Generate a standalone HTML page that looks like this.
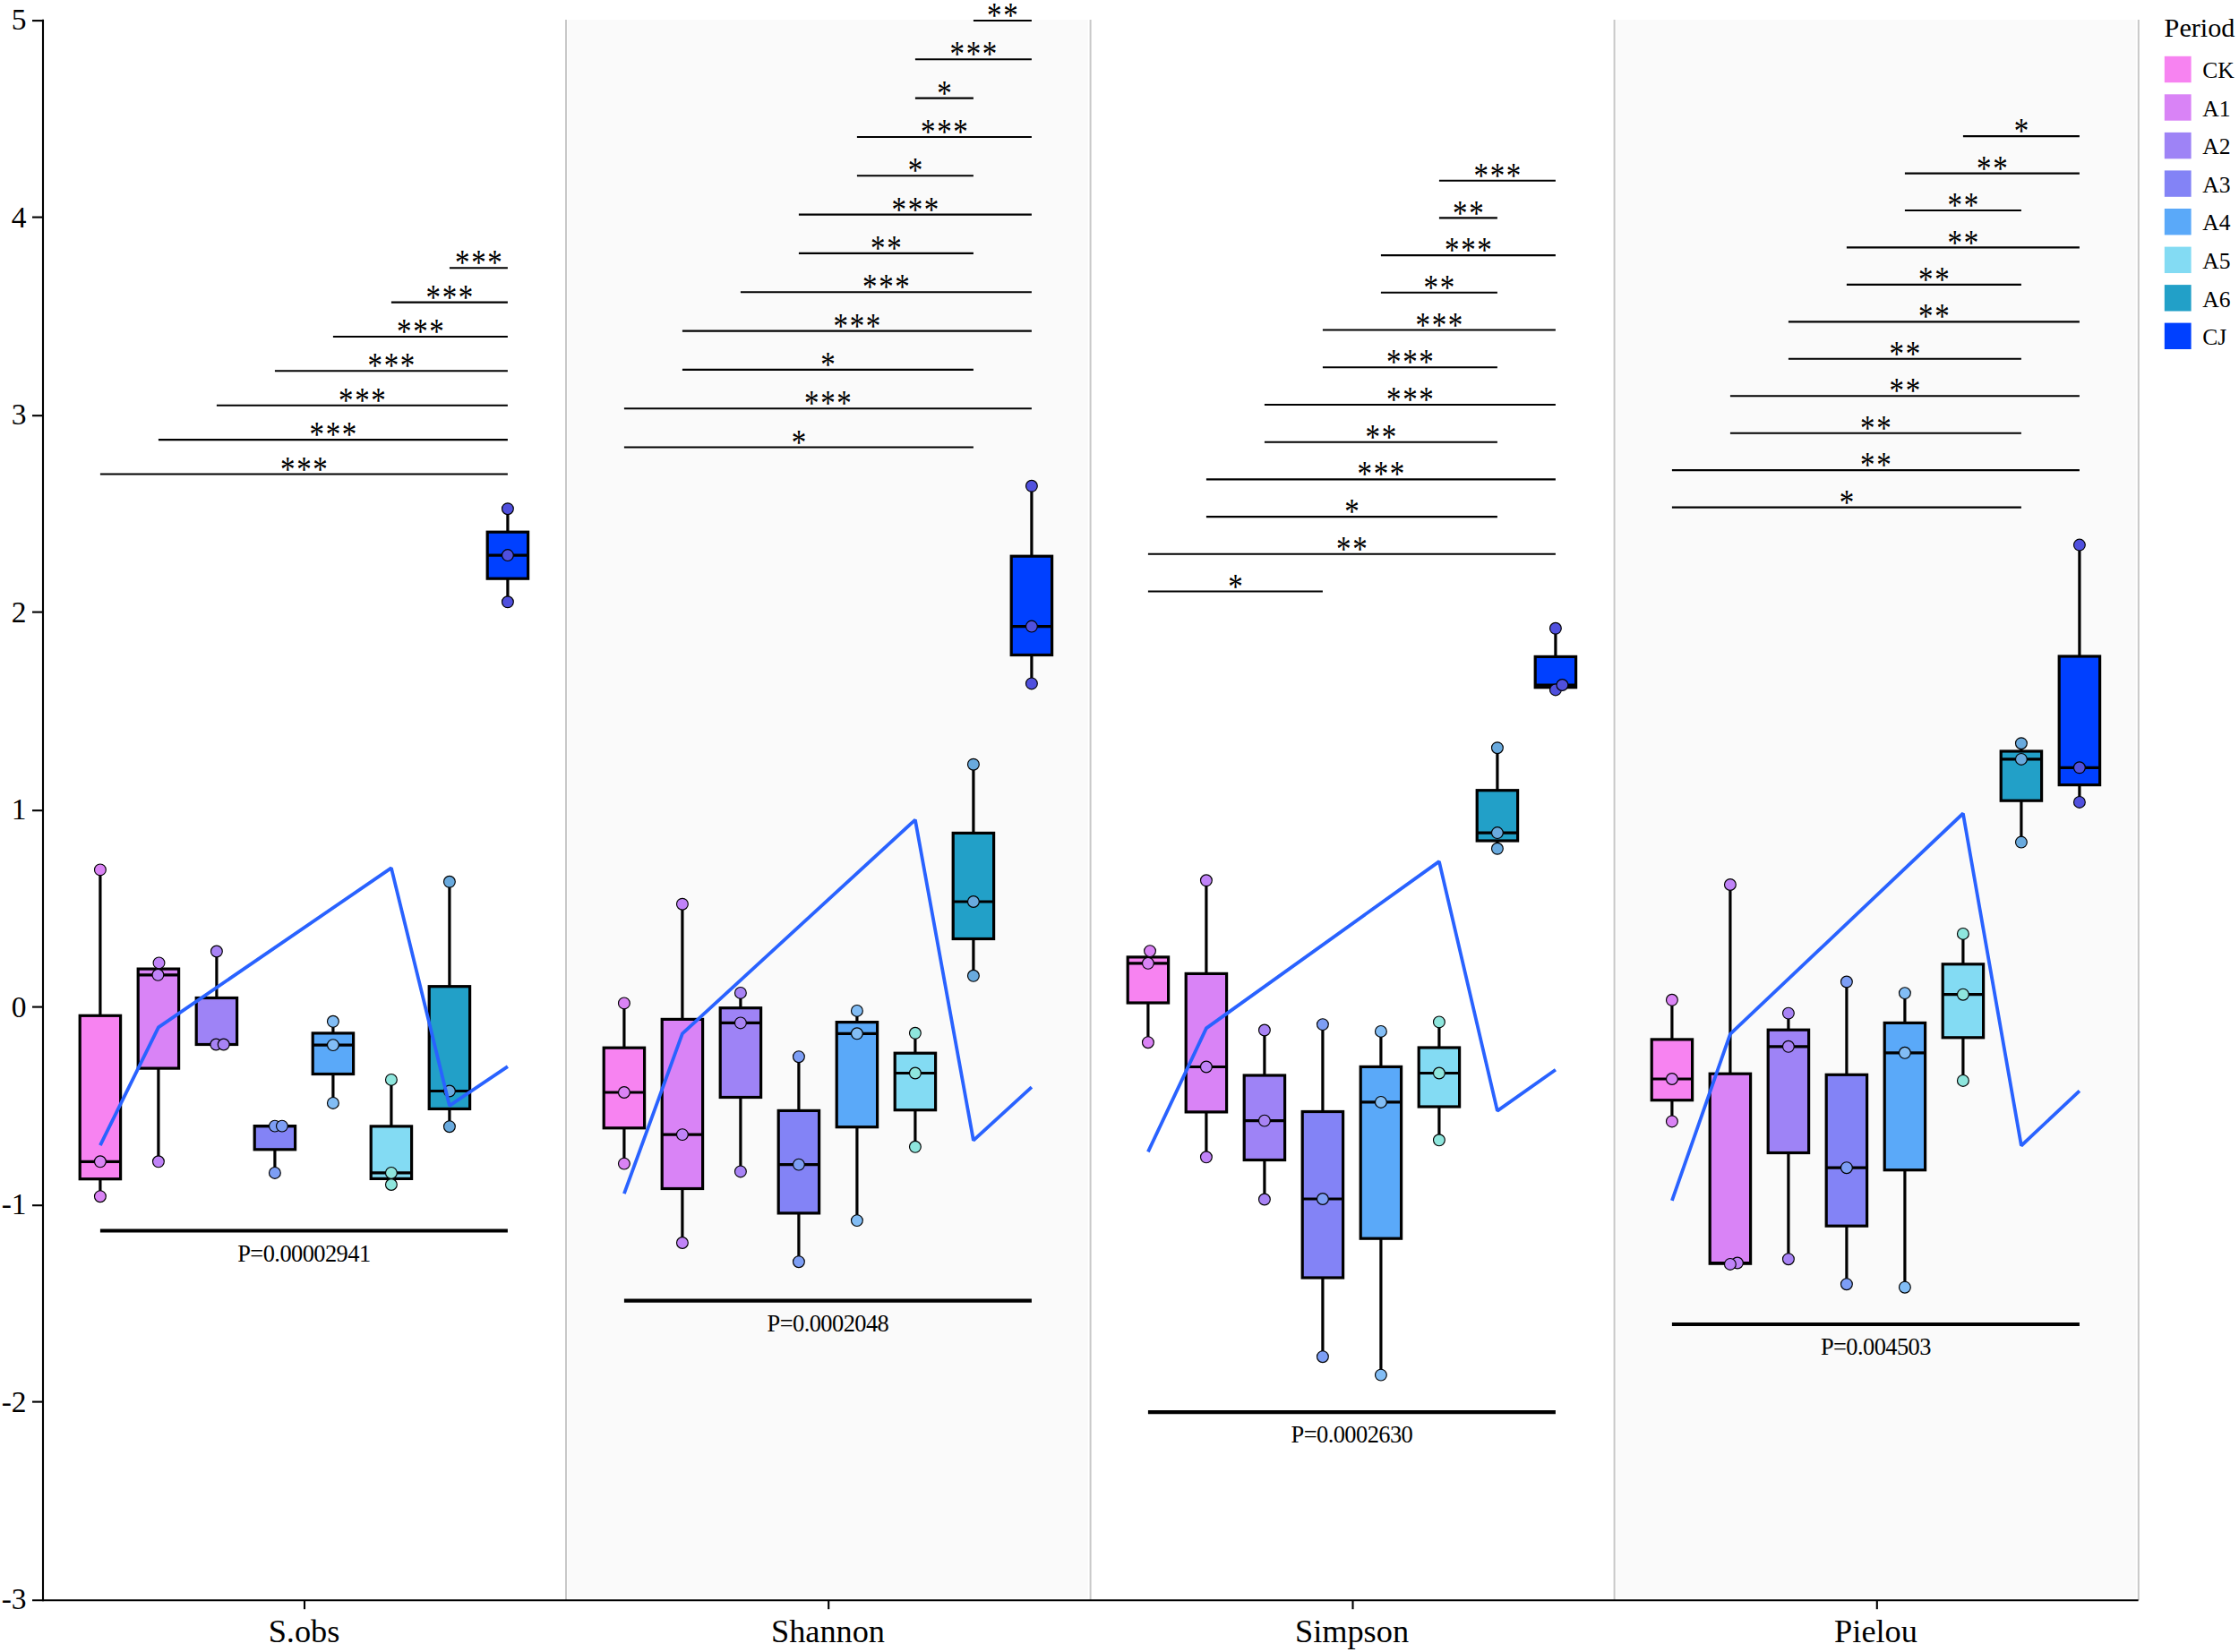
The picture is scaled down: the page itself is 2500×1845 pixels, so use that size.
<!DOCTYPE html>
<html lang="en"><head><meta charset="utf-8"><title>Alpha diversity boxplot</title>
<style>html,body{margin:0;padding:0;background:#fff}svg{display:block}text{font-family:"Liberation Serif","Times New Roman",Times,serif;fill:#000}</style></head><body>
<svg width="2500" height="1845" viewBox="0 0 2500 1845">
<rect width="2500" height="1845" fill="#fff"/>
<rect x="633.8" y="21.9" width="581.0" height="1762.8" fill="#fafafa"/>
<rect x="1804.4" y="21.9" width="580.6" height="1762.8" fill="#fafafa"/>
<line x1="632.0" y1="21.9" x2="632.0" y2="1787.2" stroke="#c8c8c8" stroke-width="2"/>
<line x1="1217.6" y1="21.9" x2="1217.6" y2="1787.2" stroke="#c8c8c8" stroke-width="2"/>
<line x1="1802.6" y1="21.9" x2="1802.6" y2="1787.2" stroke="#c8c8c8" stroke-width="2"/>
<line x1="2387.8" y1="21.9" x2="2387.8" y2="1787.2" stroke="#c8c8c8" stroke-width="2"/>
<g stroke="#000" stroke-width="2.1">
<line x1="501.9" y1="299.2" x2="566.9" y2="299.2"/>
<line x1="436.9" y1="337.6" x2="566.9" y2="337.6"/>
<line x1="371.9" y1="376.0" x2="566.9" y2="376.0"/>
<line x1="306.9" y1="414.3" x2="566.9" y2="414.3"/>
<line x1="241.9" y1="452.7" x2="566.9" y2="452.7"/>
<line x1="176.9" y1="491.1" x2="566.9" y2="491.1"/>
<line x1="111.9" y1="529.5" x2="566.9" y2="529.5"/>
<line x1="1086.9" y1="23.0" x2="1151.9" y2="23.0"/>
<line x1="1021.9" y1="66.3" x2="1151.9" y2="66.3"/>
<line x1="1021.9" y1="109.6" x2="1086.9" y2="109.6"/>
<line x1="956.9" y1="153.0" x2="1151.9" y2="153.0"/>
<line x1="956.9" y1="196.3" x2="1086.9" y2="196.3"/>
<line x1="891.9" y1="239.6" x2="1151.9" y2="239.6"/>
<line x1="891.9" y1="282.9" x2="1086.9" y2="282.9"/>
<line x1="826.9" y1="326.2" x2="1151.9" y2="326.2"/>
<line x1="761.9" y1="369.6" x2="1151.9" y2="369.6"/>
<line x1="761.9" y1="412.9" x2="1086.9" y2="412.9"/>
<line x1="696.9" y1="456.2" x2="1151.9" y2="456.2"/>
<line x1="696.9" y1="499.5" x2="1086.9" y2="499.5"/>
<line x1="1606.9" y1="201.7" x2="1736.9" y2="201.7"/>
<line x1="1606.9" y1="243.4" x2="1671.9" y2="243.4"/>
<line x1="1541.9" y1="285.1" x2="1736.9" y2="285.1"/>
<line x1="1541.9" y1="326.8" x2="1671.9" y2="326.8"/>
<line x1="1476.9" y1="368.5" x2="1736.9" y2="368.5"/>
<line x1="1476.9" y1="410.2" x2="1671.9" y2="410.2"/>
<line x1="1411.9" y1="452.0" x2="1736.9" y2="452.0"/>
<line x1="1411.9" y1="493.7" x2="1671.9" y2="493.7"/>
<line x1="1346.9" y1="535.4" x2="1736.9" y2="535.4"/>
<line x1="1346.9" y1="577.1" x2="1671.9" y2="577.1"/>
<line x1="1281.9" y1="618.8" x2="1736.9" y2="618.8"/>
<line x1="1281.9" y1="660.5" x2="1476.9" y2="660.5"/>
<line x1="2191.9" y1="152.1" x2="2321.9" y2="152.1"/>
<line x1="2126.9" y1="193.6" x2="2321.9" y2="193.6"/>
<line x1="2126.9" y1="235.0" x2="2256.9" y2="235.0"/>
<line x1="2061.9" y1="276.4" x2="2321.9" y2="276.4"/>
<line x1="2061.9" y1="317.9" x2="2256.9" y2="317.9"/>
<line x1="1996.9" y1="359.4" x2="2321.9" y2="359.4"/>
<line x1="1996.9" y1="400.8" x2="2256.9" y2="400.8"/>
<line x1="1931.9" y1="442.2" x2="2321.9" y2="442.2"/>
<line x1="1931.9" y1="483.7" x2="2256.9" y2="483.7"/>
<line x1="1866.9" y1="525.1" x2="2321.9" y2="525.1"/>
<line x1="1866.9" y1="566.6" x2="2256.9" y2="566.6"/>
</g>
<g font-size="33" text-anchor="middle" letter-spacing="1.63">
<text transform="translate(535.22,306.30) scale(1,1.2)">***</text>
<text transform="translate(502.71,344.68) scale(1,1.2)">***</text>
<text transform="translate(470.21,383.06) scale(1,1.2)">***</text>
<text transform="translate(437.71,421.44) scale(1,1.2)">***</text>
<text transform="translate(405.21,459.82) scale(1,1.2)">***</text>
<text transform="translate(372.71,498.20) scale(1,1.2)">***</text>
<text transform="translate(340.21,536.58) scale(1,1.2)">***</text>
<text transform="translate(1120.22,30.10) scale(1,1.2)">**</text>
<text transform="translate(1087.72,73.42) scale(1,1.2)">***</text>
<text transform="translate(1055.22,116.74) scale(1,1.2)">*</text>
<text transform="translate(1055.22,160.06) scale(1,1.2)">***</text>
<text transform="translate(1022.72,203.38) scale(1,1.2)">*</text>
<text transform="translate(1022.72,246.70) scale(1,1.2)">***</text>
<text transform="translate(990.22,290.02) scale(1,1.2)">**</text>
<text transform="translate(990.22,333.34) scale(1,1.2)">***</text>
<text transform="translate(957.72,376.66) scale(1,1.2)">***</text>
<text transform="translate(925.22,419.98) scale(1,1.2)">*</text>
<text transform="translate(925.22,463.30) scale(1,1.2)">***</text>
<text transform="translate(892.72,506.62) scale(1,1.2)">*</text>
<text transform="translate(1672.72,208.80) scale(1,1.2)">***</text>
<text transform="translate(1640.22,250.51) scale(1,1.2)">**</text>
<text transform="translate(1640.22,292.22) scale(1,1.2)">***</text>
<text transform="translate(1607.72,333.93) scale(1,1.2)">**</text>
<text transform="translate(1607.72,375.64) scale(1,1.2)">***</text>
<text transform="translate(1575.22,417.35) scale(1,1.2)">***</text>
<text transform="translate(1575.22,459.06) scale(1,1.2)">***</text>
<text transform="translate(1542.72,500.77) scale(1,1.2)">**</text>
<text transform="translate(1542.72,542.48) scale(1,1.2)">***</text>
<text transform="translate(1510.22,584.19) scale(1,1.2)">*</text>
<text transform="translate(1510.22,625.90) scale(1,1.2)">**</text>
<text transform="translate(1380.22,667.61) scale(1,1.2)">*</text>
<text transform="translate(2257.72,159.20) scale(1,1.2)">*</text>
<text transform="translate(2225.22,200.65) scale(1,1.2)">**</text>
<text transform="translate(2192.72,242.10) scale(1,1.2)">**</text>
<text transform="translate(2192.72,283.55) scale(1,1.2)">**</text>
<text transform="translate(2160.22,325.00) scale(1,1.2)">**</text>
<text transform="translate(2160.22,366.45) scale(1,1.2)">**</text>
<text transform="translate(2127.72,407.90) scale(1,1.2)">**</text>
<text transform="translate(2127.72,449.35) scale(1,1.2)">**</text>
<text transform="translate(2095.22,490.80) scale(1,1.2)">**</text>
<text transform="translate(2095.22,532.25) scale(1,1.2)">**</text>
<text transform="translate(2062.72,573.70) scale(1,1.2)">*</text>
</g>
<g stroke="#000" stroke-width="3.2">
<line x1="111.9" y1="971.4" x2="111.9" y2="1134.3"/>
<line x1="111.9" y1="1316.8" x2="111.9" y2="1336.2"/>
<rect x="89.2" y="1134.3" width="45.4" height="182.4" fill="#f783f1"/>
<line x1="89.2" y1="1297.3" x2="134.6" y2="1297.3"/>
</g>
<g stroke="#000" stroke-width="3.2">
<line x1="176.9" y1="1075.4" x2="176.9" y2="1082.1"/>
<line x1="176.9" y1="1193.0" x2="176.9" y2="1297.3"/>
<rect x="154.2" y="1082.1" width="45.4" height="111.0" fill="#d983f6"/>
<line x1="154.2" y1="1088.8" x2="199.6" y2="1088.8"/>
</g>
<g stroke="#000" stroke-width="3.2">
<line x1="241.9" y1="1062.5" x2="241.9" y2="1114.5"/>
<line x1="241.9" y1="1166.5" x2="241.9" y2="1166.5"/>
<rect x="219.2" y="1114.5" width="45.4" height="52.0" fill="#9e83f6"/>
<line x1="219.2" y1="1166.5" x2="264.6" y2="1166.5"/>
</g>
<g stroke="#000" stroke-width="3.2">
<line x1="306.9" y1="1257.6" x2="306.9" y2="1257.6"/>
<line x1="306.9" y1="1283.8" x2="306.9" y2="1309.9"/>
<rect x="284.2" y="1257.6" width="45.4" height="26.2" fill="#8383f6"/>
<line x1="284.2" y1="1257.6" x2="329.6" y2="1257.6"/>
</g>
<g stroke="#000" stroke-width="3.2">
<line x1="371.9" y1="1140.8" x2="371.9" y2="1153.9"/>
<line x1="371.9" y1="1199.5" x2="371.9" y2="1231.9"/>
<rect x="349.2" y="1153.9" width="45.4" height="45.6" fill="#5aa9f9"/>
<line x1="349.2" y1="1167.1" x2="394.6" y2="1167.1"/>
</g>
<g stroke="#000" stroke-width="3.2">
<line x1="436.9" y1="1205.9" x2="436.9" y2="1257.9"/>
<line x1="436.9" y1="1316.5" x2="436.9" y2="1323.0"/>
<rect x="414.2" y="1257.9" width="45.4" height="58.5" fill="#83dbf3"/>
<line x1="414.2" y1="1309.9" x2="459.6" y2="1309.9"/>
</g>
<g stroke="#000" stroke-width="3.2">
<line x1="501.9" y1="984.8" x2="501.9" y2="1101.7"/>
<line x1="501.9" y1="1238.3" x2="501.9" y2="1258.2"/>
<rect x="479.2" y="1101.7" width="45.4" height="136.7" fill="#22a0c8"/>
<line x1="479.2" y1="1218.5" x2="524.6" y2="1218.5"/>
</g>
<g stroke="#000" stroke-width="3.2">
<line x1="566.9" y1="568.2" x2="566.9" y2="594.2"/>
<line x1="566.9" y1="646.2" x2="566.9" y2="672.3"/>
<rect x="544.2" y="594.2" width="45.4" height="52.0" fill="#0040ff"/>
<line x1="544.2" y1="620.1" x2="589.6" y2="620.1"/>
</g>
<g stroke="#000" stroke-width="3.2">
<line x1="696.9" y1="1120.4" x2="696.9" y2="1170.2"/>
<line x1="696.9" y1="1259.8" x2="696.9" y2="1299.6"/>
<rect x="674.2" y="1170.2" width="45.4" height="89.6" fill="#f783f1"/>
<line x1="674.2" y1="1220.0" x2="719.6" y2="1220.0"/>
</g>
<g stroke="#000" stroke-width="3.2">
<line x1="761.9" y1="1009.7" x2="761.9" y2="1138.4"/>
<line x1="761.9" y1="1327.5" x2="761.9" y2="1388.0"/>
<rect x="739.2" y="1138.4" width="45.4" height="189.1" fill="#d983f6"/>
<line x1="739.2" y1="1267.1" x2="784.6" y2="1267.1"/>
</g>
<g stroke="#000" stroke-width="3.2">
<line x1="826.9" y1="1108.9" x2="826.9" y2="1125.7"/>
<line x1="826.9" y1="1225.4" x2="826.9" y2="1308.4"/>
<rect x="804.2" y="1125.7" width="45.4" height="99.8" fill="#9e83f6"/>
<line x1="804.2" y1="1142.4" x2="849.6" y2="1142.4"/>
</g>
<g stroke="#000" stroke-width="3.2">
<line x1="891.9" y1="1180.2" x2="891.9" y2="1240.4"/>
<line x1="891.9" y1="1354.9" x2="891.9" y2="1409.2"/>
<rect x="869.2" y="1240.4" width="45.4" height="114.5" fill="#8383f6"/>
<line x1="869.2" y1="1300.6" x2="914.6" y2="1300.6"/>
</g>
<g stroke="#000" stroke-width="3.2">
<line x1="956.9" y1="1128.9" x2="956.9" y2="1141.6"/>
<line x1="956.9" y1="1258.7" x2="956.9" y2="1363.1"/>
<rect x="934.2" y="1141.6" width="45.4" height="117.1" fill="#5aa9f9"/>
<line x1="934.2" y1="1154.3" x2="979.6" y2="1154.3"/>
</g>
<g stroke="#000" stroke-width="3.2">
<line x1="1021.9" y1="1153.8" x2="1021.9" y2="1176.2"/>
<line x1="1021.9" y1="1239.7" x2="1021.9" y2="1280.8"/>
<rect x="999.2" y="1176.2" width="45.4" height="63.5" fill="#83dbf3"/>
<line x1="999.2" y1="1198.5" x2="1044.6" y2="1198.5"/>
</g>
<g stroke="#000" stroke-width="3.2">
<line x1="1086.9" y1="853.7" x2="1086.9" y2="930.4"/>
<line x1="1086.9" y1="1048.4" x2="1086.9" y2="1089.8"/>
<rect x="1064.2" y="930.4" width="45.4" height="118.1" fill="#22a0c8"/>
<line x1="1064.2" y1="1007.0" x2="1109.6" y2="1007.0"/>
</g>
<g stroke="#000" stroke-width="3.2">
<line x1="1151.9" y1="542.8" x2="1151.9" y2="621.2"/>
<line x1="1151.9" y1="731.5" x2="1151.9" y2="763.4"/>
<rect x="1129.2" y="621.2" width="45.4" height="110.3" fill="#0040ff"/>
<line x1="1129.2" y1="699.6" x2="1174.6" y2="699.6"/>
</g>
<g stroke="#000" stroke-width="3.2">
<line x1="1281.9" y1="1062.1" x2="1281.9" y2="1068.9"/>
<line x1="1281.9" y1="1120.0" x2="1281.9" y2="1164.2"/>
<rect x="1259.2" y="1068.9" width="45.4" height="51.1" fill="#f783f1"/>
<line x1="1259.2" y1="1075.8" x2="1304.6" y2="1075.8"/>
</g>
<g stroke="#000" stroke-width="3.2">
<line x1="1346.9" y1="983.3" x2="1346.9" y2="1087.4"/>
<line x1="1346.9" y1="1241.9" x2="1346.9" y2="1292.3"/>
<rect x="1324.2" y="1087.4" width="45.4" height="154.5" fill="#d983f6"/>
<line x1="1324.2" y1="1191.5" x2="1369.6" y2="1191.5"/>
</g>
<g stroke="#000" stroke-width="3.2">
<line x1="1411.9" y1="1150.5" x2="1411.9" y2="1201.0"/>
<line x1="1411.9" y1="1295.5" x2="1411.9" y2="1339.5"/>
<rect x="1389.2" y="1201.0" width="45.4" height="94.5" fill="#9e83f6"/>
<line x1="1389.2" y1="1251.6" x2="1434.6" y2="1251.6"/>
</g>
<g stroke="#000" stroke-width="3.2">
<line x1="1476.9" y1="1144.1" x2="1476.9" y2="1241.5"/>
<line x1="1476.9" y1="1427.1" x2="1476.9" y2="1515.2"/>
<rect x="1454.2" y="1241.5" width="45.4" height="185.5" fill="#8383f6"/>
<line x1="1454.2" y1="1339.0" x2="1499.6" y2="1339.0"/>
</g>
<g stroke="#000" stroke-width="3.2">
<line x1="1541.9" y1="1151.9" x2="1541.9" y2="1191.4"/>
<line x1="1541.9" y1="1383.2" x2="1541.9" y2="1535.6"/>
<rect x="1519.2" y="1191.4" width="45.4" height="191.8" fill="#5aa9f9"/>
<line x1="1519.2" y1="1230.9" x2="1564.6" y2="1230.9"/>
</g>
<g stroke="#000" stroke-width="3.2">
<line x1="1606.9" y1="1141.4" x2="1606.9" y2="1170.0"/>
<line x1="1606.9" y1="1235.9" x2="1606.9" y2="1273.3"/>
<rect x="1584.2" y="1170.0" width="45.4" height="66.0" fill="#83dbf3"/>
<line x1="1584.2" y1="1198.5" x2="1629.6" y2="1198.5"/>
</g>
<g stroke="#000" stroke-width="3.2">
<line x1="1671.9" y1="835.2" x2="1671.9" y2="882.7"/>
<line x1="1671.9" y1="939.0" x2="1671.9" y2="947.8"/>
<rect x="1649.2" y="882.7" width="45.4" height="56.3" fill="#22a0c8"/>
<line x1="1649.2" y1="930.1" x2="1694.6" y2="930.1"/>
</g>
<g stroke="#000" stroke-width="3.2">
<line x1="1736.9" y1="701.8" x2="1736.9" y2="733.4"/>
<line x1="1736.9" y1="767.7" x2="1736.9" y2="770.4"/>
<rect x="1714.2" y="733.4" width="45.4" height="34.3" fill="#0040ff"/>
<line x1="1714.2" y1="765.0" x2="1759.6" y2="765.0"/>
</g>
<g stroke="#000" stroke-width="3.2">
<line x1="1866.9" y1="1116.8" x2="1866.9" y2="1160.9"/>
<line x1="1866.9" y1="1228.7" x2="1866.9" y2="1252.4"/>
<rect x="1844.2" y="1160.9" width="45.4" height="67.8" fill="#f783f1"/>
<line x1="1844.2" y1="1205.0" x2="1889.6" y2="1205.0"/>
</g>
<g stroke="#000" stroke-width="3.2">
<line x1="1931.9" y1="988.0" x2="1931.9" y2="1199.2"/>
<line x1="1931.9" y1="1411.2" x2="1931.9" y2="1411.9"/>
<rect x="1909.2" y="1199.2" width="45.4" height="212.0" fill="#d983f6"/>
<line x1="1909.2" y1="1410.5" x2="1954.6" y2="1410.5"/>
</g>
<g stroke="#000" stroke-width="3.2">
<line x1="1996.9" y1="1131.6" x2="1996.9" y2="1150.2"/>
<line x1="1996.9" y1="1287.5" x2="1996.9" y2="1406.2"/>
<rect x="1974.2" y="1150.2" width="45.4" height="137.3" fill="#9e83f6"/>
<line x1="1974.2" y1="1168.8" x2="2019.6" y2="1168.8"/>
</g>
<g stroke="#000" stroke-width="3.2">
<line x1="2061.9" y1="1096.5" x2="2061.9" y2="1200.3"/>
<line x1="2061.9" y1="1369.2" x2="2061.9" y2="1434.2"/>
<rect x="2039.2" y="1200.3" width="45.4" height="168.9" fill="#8383f6"/>
<line x1="2039.2" y1="1304.2" x2="2084.6" y2="1304.2"/>
</g>
<g stroke="#000" stroke-width="3.2">
<line x1="2126.9" y1="1109.1" x2="2126.9" y2="1142.4"/>
<line x1="2126.9" y1="1306.8" x2="2126.9" y2="1437.7"/>
<rect x="2104.2" y="1142.4" width="45.4" height="164.3" fill="#5aa9f9"/>
<line x1="2104.2" y1="1175.8" x2="2149.6" y2="1175.8"/>
</g>
<g stroke="#000" stroke-width="3.2">
<line x1="2191.9" y1="1042.9" x2="2191.9" y2="1076.8"/>
<line x1="2191.9" y1="1158.8" x2="2191.9" y2="1206.9"/>
<rect x="2169.2" y="1076.8" width="45.4" height="82.0" fill="#83dbf3"/>
<line x1="2169.2" y1="1110.7" x2="2214.6" y2="1110.7"/>
</g>
<g stroke="#000" stroke-width="3.2">
<line x1="2256.9" y1="830.2" x2="2256.9" y2="839.0"/>
<line x1="2256.9" y1="894.2" x2="2256.9" y2="940.6"/>
<rect x="2234.2" y="839.0" width="45.4" height="55.2" fill="#22a0c8"/>
<line x1="2234.2" y1="847.9" x2="2279.6" y2="847.9"/>
</g>
<g stroke="#000" stroke-width="3.2">
<line x1="2321.9" y1="608.6" x2="2321.9" y2="733.0"/>
<line x1="2321.9" y1="876.6" x2="2321.9" y2="895.9"/>
<rect x="2299.2" y="733.0" width="45.4" height="143.6" fill="#0040ff"/>
<line x1="2299.2" y1="857.3" x2="2344.6" y2="857.3"/>
</g>
<g fill="#da83f5" stroke="#000" stroke-width="1.15">
<circle cx="111.9" cy="971.4" r="6.4"/>
<circle cx="111.9" cy="1297.3" r="6.4"/>
<circle cx="111.9" cy="1336.2" r="6.4"/>
</g>
<g fill="#c083f8" stroke="#000" stroke-width="1.15">
<circle cx="177.5" cy="1075.4" r="6.4"/>
<circle cx="176.4" cy="1088.8" r="6.4"/>
<circle cx="176.9" cy="1297.3" r="6.4"/>
</g>
<g fill="#a883f5" stroke="#000" stroke-width="1.15">
<circle cx="241.9" cy="1062.5" r="6.4"/>
<circle cx="241.3" cy="1166.5" r="6.4"/>
<circle cx="249.7" cy="1166.5" r="6.4"/>
</g>
<g fill="#7d9ef5" stroke="#000" stroke-width="1.15">
<circle cx="306.9" cy="1257.6" r="6.4"/>
<circle cx="314.9" cy="1257.6" r="6.4"/>
<circle cx="306.9" cy="1309.9" r="6.4"/>
</g>
<g fill="#82bdf5" stroke="#000" stroke-width="1.15">
<circle cx="371.9" cy="1140.8" r="6.4"/>
<circle cx="371.9" cy="1167.1" r="6.4"/>
<circle cx="371.9" cy="1231.9" r="6.4"/>
</g>
<g fill="#8ee6dd" stroke="#000" stroke-width="1.15">
<circle cx="436.9" cy="1205.9" r="6.4"/>
<circle cx="436.9" cy="1309.9" r="6.4"/>
<circle cx="436.9" cy="1323.0" r="6.4"/>
</g>
<g fill="#69aade" stroke="#000" stroke-width="1.15">
<circle cx="501.9" cy="984.8" r="6.4"/>
<circle cx="501.9" cy="1218.5" r="6.4"/>
<circle cx="501.9" cy="1258.2" r="6.4"/>
</g>
<g fill="#5050de" stroke="#000" stroke-width="1.15">
<circle cx="566.9" cy="568.2" r="6.4"/>
<circle cx="566.9" cy="620.1" r="6.4"/>
<circle cx="566.9" cy="672.3" r="6.4"/>
</g>
<g fill="#da83f5" stroke="#000" stroke-width="1.15">
<circle cx="696.9" cy="1120.4" r="6.4"/>
<circle cx="696.9" cy="1220.0" r="6.4"/>
<circle cx="696.9" cy="1299.6" r="6.4"/>
</g>
<g fill="#c083f8" stroke="#000" stroke-width="1.15">
<circle cx="761.9" cy="1009.7" r="6.4"/>
<circle cx="761.9" cy="1267.1" r="6.4"/>
<circle cx="761.9" cy="1388.0" r="6.4"/>
</g>
<g fill="#a883f5" stroke="#000" stroke-width="1.15">
<circle cx="826.9" cy="1108.9" r="6.4"/>
<circle cx="826.9" cy="1142.4" r="6.4"/>
<circle cx="826.9" cy="1308.4" r="6.4"/>
</g>
<g fill="#7d9ef5" stroke="#000" stroke-width="1.15">
<circle cx="891.9" cy="1180.2" r="6.4"/>
<circle cx="891.9" cy="1300.6" r="6.4"/>
<circle cx="891.9" cy="1409.2" r="6.4"/>
</g>
<g fill="#82bdf5" stroke="#000" stroke-width="1.15">
<circle cx="956.9" cy="1128.9" r="6.4"/>
<circle cx="956.9" cy="1154.3" r="6.4"/>
<circle cx="956.9" cy="1363.1" r="6.4"/>
</g>
<g fill="#8ee6dd" stroke="#000" stroke-width="1.15">
<circle cx="1021.9" cy="1153.8" r="6.4"/>
<circle cx="1021.9" cy="1198.5" r="6.4"/>
<circle cx="1021.9" cy="1280.8" r="6.4"/>
</g>
<g fill="#69aade" stroke="#000" stroke-width="1.15">
<circle cx="1086.9" cy="853.7" r="6.4"/>
<circle cx="1086.9" cy="1007.0" r="6.4"/>
<circle cx="1086.9" cy="1089.8" r="6.4"/>
</g>
<g fill="#5050de" stroke="#000" stroke-width="1.15">
<circle cx="1151.9" cy="542.8" r="6.4"/>
<circle cx="1151.9" cy="699.6" r="6.4"/>
<circle cx="1151.9" cy="763.4" r="6.4"/>
</g>
<g fill="#da83f5" stroke="#000" stroke-width="1.15">
<circle cx="1284.0" cy="1062.1" r="6.4"/>
<circle cx="1281.9" cy="1075.8" r="6.4"/>
<circle cx="1281.9" cy="1164.2" r="6.4"/>
</g>
<g fill="#c083f8" stroke="#000" stroke-width="1.15">
<circle cx="1346.9" cy="983.3" r="6.4"/>
<circle cx="1346.9" cy="1191.5" r="6.4"/>
<circle cx="1346.9" cy="1292.3" r="6.4"/>
</g>
<g fill="#a883f5" stroke="#000" stroke-width="1.15">
<circle cx="1411.9" cy="1150.5" r="6.4"/>
<circle cx="1411.9" cy="1251.6" r="6.4"/>
<circle cx="1411.9" cy="1339.5" r="6.4"/>
</g>
<g fill="#7d9ef5" stroke="#000" stroke-width="1.15">
<circle cx="1476.9" cy="1144.1" r="6.4"/>
<circle cx="1476.9" cy="1339.0" r="6.4"/>
<circle cx="1476.9" cy="1515.2" r="6.4"/>
</g>
<g fill="#82bdf5" stroke="#000" stroke-width="1.15">
<circle cx="1541.9" cy="1151.9" r="6.4"/>
<circle cx="1541.9" cy="1230.9" r="6.4"/>
<circle cx="1541.9" cy="1535.6" r="6.4"/>
</g>
<g fill="#8ee6dd" stroke="#000" stroke-width="1.15">
<circle cx="1606.9" cy="1141.4" r="6.4"/>
<circle cx="1606.9" cy="1198.5" r="6.4"/>
<circle cx="1606.9" cy="1273.3" r="6.4"/>
</g>
<g fill="#69aade" stroke="#000" stroke-width="1.15">
<circle cx="1671.9" cy="835.2" r="6.4"/>
<circle cx="1671.9" cy="930.1" r="6.4"/>
<circle cx="1671.9" cy="947.8" r="6.4"/>
</g>
<g fill="#5050de" stroke="#000" stroke-width="1.15">
<circle cx="1736.9" cy="701.8" r="6.4"/>
<circle cx="1736.9" cy="770.4" r="6.4"/>
<circle cx="1744.4" cy="765.0" r="6.4"/>
</g>
<g fill="#da83f5" stroke="#000" stroke-width="1.15">
<circle cx="1866.9" cy="1116.8" r="6.4"/>
<circle cx="1866.9" cy="1205.0" r="6.4"/>
<circle cx="1866.9" cy="1252.4" r="6.4"/>
</g>
<g fill="#c083f8" stroke="#000" stroke-width="1.15">
<circle cx="1931.9" cy="988.0" r="6.4"/>
<circle cx="1939.9" cy="1410.5" r="6.4"/>
<circle cx="1931.9" cy="1411.9" r="6.4"/>
</g>
<g fill="#a883f5" stroke="#000" stroke-width="1.15">
<circle cx="1996.9" cy="1131.6" r="6.4"/>
<circle cx="1996.9" cy="1168.8" r="6.4"/>
<circle cx="1996.9" cy="1406.2" r="6.4"/>
</g>
<g fill="#7d9ef5" stroke="#000" stroke-width="1.15">
<circle cx="2061.9" cy="1096.5" r="6.4"/>
<circle cx="2061.9" cy="1304.2" r="6.4"/>
<circle cx="2061.9" cy="1434.2" r="6.4"/>
</g>
<g fill="#82bdf5" stroke="#000" stroke-width="1.15">
<circle cx="2126.9" cy="1109.1" r="6.4"/>
<circle cx="2126.9" cy="1175.8" r="6.4"/>
<circle cx="2126.9" cy="1437.7" r="6.4"/>
</g>
<g fill="#8ee6dd" stroke="#000" stroke-width="1.15">
<circle cx="2191.9" cy="1042.9" r="6.4"/>
<circle cx="2191.9" cy="1110.7" r="6.4"/>
<circle cx="2191.9" cy="1206.9" r="6.4"/>
</g>
<g fill="#69aade" stroke="#000" stroke-width="1.15">
<circle cx="2256.9" cy="830.2" r="6.4"/>
<circle cx="2256.9" cy="847.9" r="6.4"/>
<circle cx="2256.9" cy="940.6" r="6.4"/>
</g>
<g fill="#5050de" stroke="#000" stroke-width="1.15">
<circle cx="2321.9" cy="608.6" r="6.4"/>
<circle cx="2321.9" cy="857.3" r="6.4"/>
<circle cx="2321.9" cy="895.9" r="6.4"/>
</g>
<polyline points="111.9,1279.1 176.9,1147.4 436.9,969.4 501.9,1234.9 566.9,1191.2" fill="none" stroke="#2962ff" stroke-width="3.8" stroke-linejoin="bevel"/>
<polyline points="696.9,1333.1 761.9,1154.4 1021.9,915.6 1086.9,1273.6 1151.9,1214.1" fill="none" stroke="#2962ff" stroke-width="3.8" stroke-linejoin="bevel"/>
<polyline points="1281.9,1286.4 1346.9,1148.4 1606.9,962.1 1671.9,1240.6 1736.9,1194.7" fill="none" stroke="#2962ff" stroke-width="3.8" stroke-linejoin="bevel"/>
<polyline points="1866.9,1340.9 1931.9,1154.9 2191.9,908.5 2256.9,1279.5 2321.9,1218.4" fill="none" stroke="#2962ff" stroke-width="3.8" stroke-linejoin="bevel"/>
<line x1="111.9" y1="1374.5" x2="566.9" y2="1374.5" stroke="#000" stroke-width="4.2"/>
<text x="339.4" y="1408.7" font-size="26.4" letter-spacing="-0.55" text-anchor="middle">P=0.00002941</text>
<line x1="696.9" y1="1452.6" x2="1151.9" y2="1452.6" stroke="#000" stroke-width="4.2"/>
<text x="924.4" y="1486.8" font-size="26.4" letter-spacing="-0.55" text-anchor="middle">P=0.0002048</text>
<line x1="1281.9" y1="1577.1" x2="1736.9" y2="1577.1" stroke="#000" stroke-width="4.2"/>
<text x="1509.4" y="1611.3" font-size="26.4" letter-spacing="-0.55" text-anchor="middle">P=0.0002630</text>
<line x1="1866.9" y1="1479.0" x2="2321.9" y2="1479.0" stroke="#000" stroke-width="4.2"/>
<text x="2094.4" y="1513.2" font-size="26.4" letter-spacing="-0.55" text-anchor="middle">P=0.004503</text>
<g stroke="#000" stroke-width="2.1">
<line x1="48.0" y1="21.849999999999998" x2="48.0" y2="1788.25"/>
<line x1="36" y1="1787.2" x2="2387.6000000000004" y2="1787.2"/>
<line x1="36" y1="1565.6" x2="48.0" y2="1565.6"/>
<line x1="36" y1="1346.2" x2="48.0" y2="1346.2"/>
<line x1="36" y1="1124.6" x2="48.0" y2="1124.6"/>
<line x1="36" y1="905.2" x2="48.0" y2="905.2"/>
<line x1="36" y1="683.6" x2="48.0" y2="683.6"/>
<line x1="36" y1="464.2" x2="48.0" y2="464.2"/>
<line x1="36" y1="242.6" x2="48.0" y2="242.6"/>
<line x1="36" y1="23.1" x2="48.0" y2="23.1"/>
<line x1="340.0" y1="1787.2" x2="340.0" y2="1797.2"/>
<line x1="925.2" y1="1787.2" x2="925.2" y2="1797.2"/>
<line x1="1510.5" y1="1787.2" x2="1510.5" y2="1797.2"/>
<line x1="2095.8" y1="1787.2" x2="2095.8" y2="1797.2"/>
</g>
<g font-size="33.5" text-anchor="end">
<text x="29.6" y="1797.4">-3</text>
<text x="29.6" y="1576.9">-2</text>
<text x="29.6" y="1356.4">-1</text>
<text x="29.6" y="1135.9">0</text>
<text x="29.6" y="915.3">1</text>
<text x="29.6" y="694.8">2</text>
<text x="29.6" y="474.3">3</text>
<text x="29.6" y="253.8">4</text>
<text x="29.6" y="33.2">5</text>
</g>
<g font-size="36.3" text-anchor="middle">
<text x="339.5" y="1833.6">S.obs</text>
<text x="924.5" y="1833.6">Shannon</text>
<text x="1509.5" y="1833.6">Simpson</text>
<text x="2094.5" y="1833.6">Pielou</text>
</g>
<text x="2416.6" y="40.5" font-size="30.2">Period</text>
<rect x="2416.8" y="62.8" width="29.8" height="29.4" fill="#f783f1"/>
<text x="2459.3" y="87.2" font-size="25.5">CK</text>
<rect x="2416.8" y="105.3" width="29.8" height="29.4" fill="#d983f6"/>
<text x="2459.3" y="129.8" font-size="25.5">A1</text>
<rect x="2416.8" y="147.9" width="29.8" height="29.4" fill="#9e83f6"/>
<text x="2459.3" y="172.3" font-size="25.5">A2</text>
<rect x="2416.8" y="190.4" width="29.8" height="29.4" fill="#8383f6"/>
<text x="2459.3" y="214.8" font-size="25.5">A3</text>
<rect x="2416.8" y="233.0" width="29.8" height="29.4" fill="#5aa9f9"/>
<text x="2459.3" y="257.4" font-size="25.5">A4</text>
<rect x="2416.8" y="275.6" width="29.8" height="29.4" fill="#83dbf3"/>
<text x="2459.3" y="299.9" font-size="25.5">A5</text>
<rect x="2416.8" y="318.1" width="29.8" height="29.4" fill="#22a0c8"/>
<text x="2459.3" y="342.5" font-size="25.5">A6</text>
<rect x="2416.8" y="360.6" width="29.8" height="29.4" fill="#0040ff"/>
<text x="2459.3" y="385.0" font-size="25.5">CJ</text>
</svg></body></html>
